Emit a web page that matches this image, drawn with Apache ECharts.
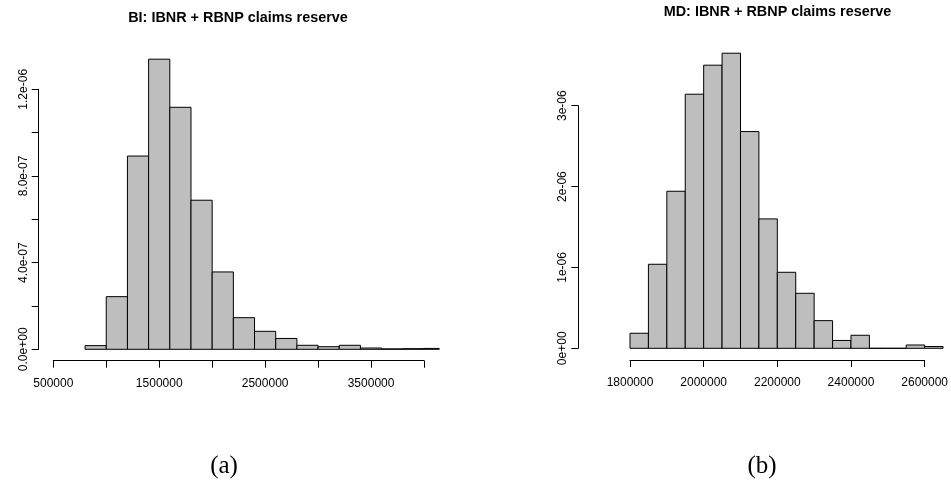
<!DOCTYPE html>
<html><head><meta charset="utf-8">
<script src="https://cdn.jsdelivr.net/npm/echarts@6/dist/echarts.min.js"></script>
<style>html,body{margin:0;padding:0;background:#fff}#c{width:951px;height:482px}</style>
</head><body><div id="c"></div>
<script>
// ---- BI histogram (density) ----
const biBreaks = [800000,1000000,1200000,1400000,1600000,1800000,2000000,2200000,2400000,2600000,2800000,3000000,3200000,3400000,3600000,3800000,4000000,4200000];
const biDensity = [1.7e-8,2.43e-7,8.92e-7,1.339e-6,1.117e-6,6.88e-7,3.57e-7,1.46e-7,8.3e-8,5.0e-8,1.85e-8,1.2e-8,1.85e-8,6e-9,2e-9,3e-9,4e-9];
const biXTicks = [500000,1000000,1500000,2000000,2500000,3000000,3500000,4000000];
const biXLabels = [500000,1500000,2500000,3500000];
const biYTicks = [0,2e-7,4e-7,6e-7,8e-7,1e-6,1.2e-6];
const biYLabelValues = [0,4e-7,8e-7,1.2e-6];
const biYLabelText = ['0.0e+00','4.0e-07','8.0e-07','1.2e-06'];
const biTitle = 'BI: IBNR + RBNP claims reserve';

// ---- MD histogram (density) ----
const mdBreaks = [1800000,1850000,1900000,1950000,2000000,2050000,2100000,2150000,2200000,2250000,2300000,2350000,2400000,2450000,2500000,2550000,2600000,2650000];
const mdDensity = [1.86e-7,1.039e-6,1.942e-6,3.142e-6,3.501e-6,3.649e-6,2.680e-6,1.600e-6,9.40e-7,6.80e-7,3.42e-7,9.7e-8,1.61e-7,0,0,4.1e-8,2.2e-8];
const mdXTicks = [1800000,2000000,2200000,2400000,2600000];
const mdXLabels = [1800000,2000000,2200000,2400000,2600000];
const mdYTicks = [0,1e-6,2e-6,3e-6];
const mdYLabelValues = [0,1e-6,2e-6,3e-6];
const mdYLabelText = ['0e+00','1e-06','2e-06','3e-06'];
const mdTitle = 'MD: IBNR + RBNP claims reserve';

const captions = ['(a)','(b)'];

// plot-region clip limits (x) for each panel
const biClipX = 4144000;
const mdClipX = 2652000;

const FONT = "'Liberation Sans', Arial, Helvetica, sans-serif";

function histData(breaks, dens){ return dens.map((d,i)=>[breaks[i], breaks[i+1], d]); }

function barRenderer(clipX){
  return function(params, api){
    const x0 = api.value(0), x1 = Math.min(api.value(1), clipX), d = api.value(2);
    const p0 = api.coord([x0, 0]);
    const p1 = api.coord([x1, d]);
    return {
      type:'rect',
      shape:{x:p0[0], y:p1[1], width:p1[0]-p0[0], height:p0[1]-p1[1]},
      style:{fill:'#bebebe', stroke:'#000', lineWidth:1}
    };
  };
}

function yFormatter(vals, texts){
  return function(v){
    const i = vals.findIndex(u => Math.abs(u - v) < 1e-13);
    return i >= 0 ? texts[i] : '';
  };
}

const axisCommonX = (idx, ticks, labels, min, max, offset) => ({
  type:'value', gridIndex:idx, min:min, max:max, position:'bottom', offset:offset,
  axisLine:{show:true, onZero:false, lineStyle:{color:'#000', width:1}},
  axisTick:{show:true, inside:false, length:7, customValues:ticks, lineStyle:{color:'#000', width:1}},
  axisLabel:{show:true, margin:16.5, customValues:labels, formatter:v=>String(v), color:'#000', fontSize:12, fontFamily:FONT},
  splitLine:{show:false}
});
const axisCommonY = (idx, ticks, labelVals, labelTexts, min, max, offset) => ({
  type:'value', gridIndex:idx, min:min, max:max, position:'left', offset:offset,
  axisLine:{show:true, onZero:false, lineStyle:{color:'#000', width:1}},
  axisTick:{show:true, inside:false, length:7, customValues:ticks, lineStyle:{color:'#000', width:1}},
  axisLabel:{show:true, rotate:90, margin:9.5, customValues:labelVals, formatter:yFormatter(labelVals, labelTexts), color:'#000', fontSize:12, fontFamily:FONT},
  splitLine:{show:false}
});

const chart = echarts.init(document.getElementById('c'), null, {renderer:'canvas'});
chart.setOption({
  animation:false,
  backgroundColor:'#fff',
  grid:[
    {left:53.3, top:89.3, width:370.7, height:260, containLabel:false},
    {left:630, top:105.7, width:295.7, height:242.6, containLabel:false}
  ],
  xAxis:[
    axisCommonX(0, biXTicks, biXLabels, biXTicks[0], biXTicks[biXTicks.length-1], 11.4),
    axisCommonX(1, mdXTicks, mdXLabels, mdXTicks[0], mdXTicks[mdXTicks.length-1], 11.7)
  ],
  yAxis:[
    axisCommonY(0, biYTicks, biYLabelValues, biYLabelText, biYTicks[0], biYTicks[biYTicks.length-1], 14.6),
    axisCommonY(1, mdYTicks, mdYLabelValues, mdYLabelText, mdYTicks[0], mdYTicks[mdYTicks.length-1], 51.7)
  ],
  series:[
    {type:'custom', xAxisIndex:0, yAxisIndex:0, clip:false, renderItem:barRenderer(biClipX),
     data:histData(biBreaks, biDensity), encode:{x:[0,1], y:2}},
    {type:'custom', xAxisIndex:1, yAxisIndex:1, clip:false, renderItem:barRenderer(mdClipX),
     data:histData(mdBreaks, mdDensity), encode:{x:[0,1], y:2}}
  ],
  graphic:[
    {type:'text', x:238, y:18.5, style:{text:biTitle, fill:'#000', font:"bold 14.4px " + FONT, align:'center', verticalAlign:'middle'}},
    {type:'text', x:777.5, y:12, style:{text:mdTitle, fill:'#000', font:"bold 14.4px " + FONT, align:'center', verticalAlign:'middle'}},
    {type:'text', x:224, y:466, style:{text:captions[0], fill:'#000', font:"25px 'Liberation Serif', 'DejaVu Serif', serif", align:'center', verticalAlign:'middle'}},
    {type:'text', x:762, y:466, style:{text:captions[1], fill:'#000', font:"25px 'Liberation Serif', 'DejaVu Serif', serif", align:'center', verticalAlign:'middle'}}
  ]
});
</script>
</body></html>
